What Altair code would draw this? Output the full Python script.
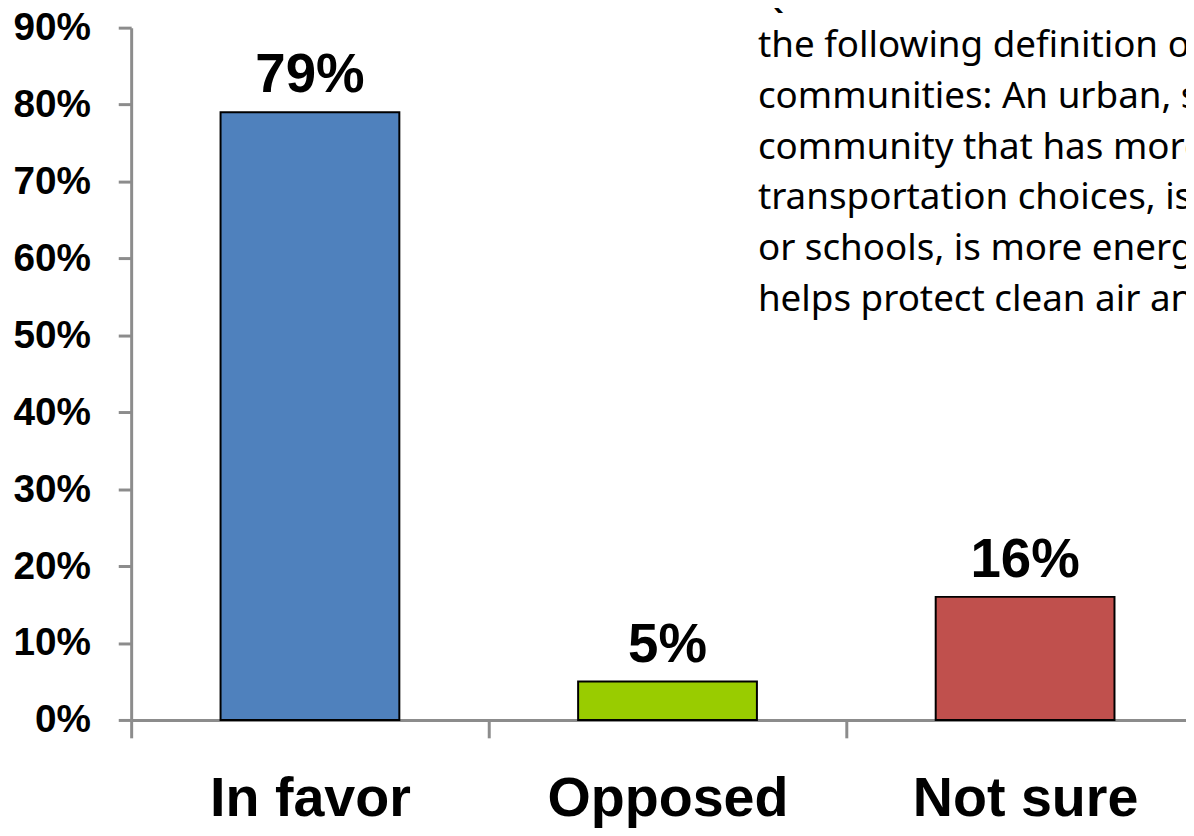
import altair as alt
import pandas as pd

categories = ["In favor", "Opposed", "Not sure"]
values = [0.79, 0.05, 0.16]
colors = ["#4F81BD", "#99CC00", "#C0504D"]
y_ticks = [0, 0.1, 0.2, 0.3, 0.4, 0.5, 0.6, 0.7, 0.8, 0.9]
note_lines = [
    "Q: For the remainder of t",
    "the following definition of",
    "communities: An urban, s",
    "community that has more",
    "transportation choices, is",
    "or schools, is more energy",
    "helps protect clean air and",
]

df = pd.DataFrame({"cat": categories, "val": values})

BOLD = "Liberation Sans, Arial"
AXIS_GRAY = "#8c8c8c"

x = alt.X(
    "cat:N",
    sort=categories,
    scale=alt.Scale(range=[0, 1080], paddingInner=0, paddingOuter=0),
    axis=alt.Axis(
        title=None,
        labelAngle=0,
        labelFont=BOLD,
        labelFontSize=56,
        labelFontWeight="bold",
        labelColor="black",
        labelBaseline="alphabetic",
        labelPadding=78,
        labelLimit=600,
        tickSize=18,
        tickWidth=3,
        tickColor=AXIS_GRAY,
        tickBand="extent",
        domainColor=AXIS_GRAY,
        domainWidth=3,
        grid=False,
    ),
)
y = alt.Y(
    "val:Q",
    scale=alt.Scale(domain=[0, 0.9], nice=False),
    axis=alt.Axis(
        title=None,
        values=y_ticks,
        format=".0%",
        labelFont=BOLD,
        labelFontSize=39,
        labelFontWeight="bold",
        labelColor="black",
        labelPadding=28,
        tickSize=13,
        tickWidth=3,
        tickColor=AXIS_GRAY,
        domainColor=AXIS_GRAY,
        domainWidth=3,
        grid=False,
    ),
)

base = alt.Chart(df)

bars = base.mark_bar(
    stroke="black", strokeWidth=2, width=alt.RelativeBandSize(0.5)
).encode(
    x=x,
    y=y,
    color=alt.Color("cat:N", scale=alt.Scale(domain=categories, range=colors), legend=None),
)

labels = base.mark_text(
    dy=-20,
    baseline="alphabetic",
    font=BOLD,
    fontSize=55,
    fontWeight="bold",
    color="black",
).encode(
    x=alt.X("cat:N", sort=categories),
    y="val:Q",
    text=alt.Text("val:Q", format=".0%"),
)

note = alt.Chart(pd.DataFrame({"k": [0]})).mark_text(
    text=note_lines,
    align="left",
    baseline="alphabetic",
    font="Noto Sans",
    fontSize=37,
    lineHeight=51,
    color="black",
).encode(x=alt.value(631), y=alt.value(-21))

chart = (
    alt.layer(bars, labels, note)
    .properties(
        width=1062,
        height=697,
        padding={"left": 124, "top": 17, "right": 0, "bottom": 106},
        autosize="none",
    )
    .configure_view(stroke=None)
)

chart.save("out.html", embed_options={"renderer": "svg", "actions": False})
